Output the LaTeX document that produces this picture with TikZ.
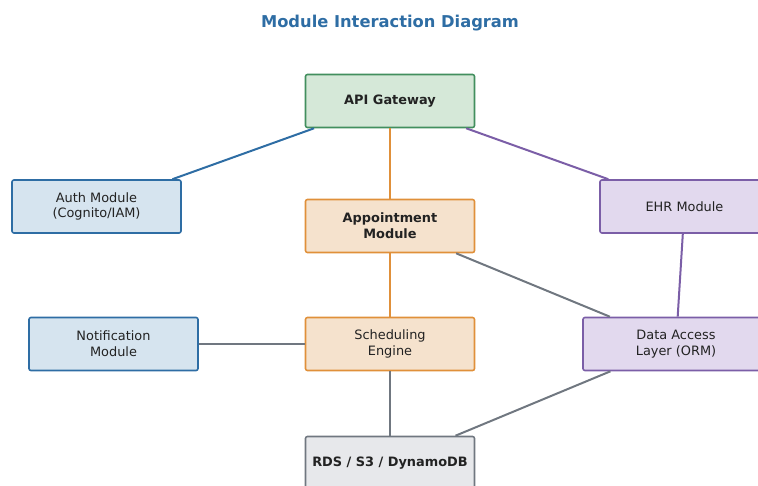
\documentclass[tikz,border=0pt]{standalone}
\usepackage{fontspec}
\setmainfont{DejaVu Sans}
\definecolor{titleblue}{HTML}{2E6DA4}
\definecolor{txt}{HTML}{222222}
\definecolor{gfill}{HTML}{D5E8D8}
\definecolor{gdraw}{HTML}{428F5E}
\definecolor{bfill}{HTML}{D6E4EF}
\definecolor{bdraw}{HTML}{2E6DA4}
\definecolor{ofill}{HTML}{F5E2CD}
\definecolor{odraw}{HTML}{E0903A}
\definecolor{pfill}{HTML}{E2D9EE}
\definecolor{pdraw}{HTML}{7B5EA7}
\definecolor{kfill}{HTML}{E7E8EB}
\definecolor{kdraw}{HTML}{707780}
\tikzset{
  box/.style={rectangle, rounded corners=2pt, line width=1.6pt, minimum width=169pt, minimum height=53pt, inner sep=0pt, align=center, text=txt, font=\fontsize{12.9}{15.7}\selectfont},
  boldbox/.style={box, font=\fontsize{12.9}{15.7}\selectfont\bfseries},
  gbox/.style={fill=gfill, draw=gdraw},
  bbox/.style={fill=bfill, draw=bdraw},
  obox/.style={fill=ofill, draw=odraw},
  pbox/.style={fill=pfill, draw=pdraw},
  kbox/.style={fill=kfill, draw=kdraw},
  link/.style={line width=2pt}
}
\begin{document}
\begin{tikzpicture}[x=1pt,y=-1pt]
\useasboundingbox (0,0) rectangle (758,485);
\clip (0,0) rectangle (758,485);
\node[font=\fontsize{16.3}{19}\selectfont\bfseries, text=titleblue] (title) at (390,23.5) {Module Interaction Diagram};
\node[boldbox, gbox] (api) at (390,101) {API Gateway};
\node[box, bbox] (auth) at (96.5,206.5) {Auth Module\\(Cognito/IAM)};
\node[box, pbox] (ehr) at (684.5,206.5) {EHR Module};
\node[boldbox, obox] (appt) at (390,226) {Appointment\\Module};
\node[box, bbox] (notif) at (113.5,344) {Notification\\Module};
\node[box, obox] (sched) at (390,344) {Scheduling\\Engine};
\node[box, pbox, minimum width=186pt] (dal) at (676,344) {Data Access\\Layer (ORM)};
\node[boldbox, kbox] (rds) at (390,463) {RDS / S3 / DynamoDB};
\draw[link, draw=bdraw] (api) -- (auth);
\draw[link, draw=pdraw] (api) -- (ehr);
\draw[link, draw=odraw] (api) -- (appt);
\draw[link, draw=odraw] (appt) -- (sched);
\draw[link, draw=kdraw] (appt) -- (dal);
\draw[link, draw=pdraw] (ehr) -- (dal);
\draw[link, draw=kdraw] (notif) -- (sched);
\draw[link, draw=kdraw] (sched) -- (rds);
\draw[link, draw=kdraw] (dal) -- (rds);
\end{tikzpicture}
\end{document}
